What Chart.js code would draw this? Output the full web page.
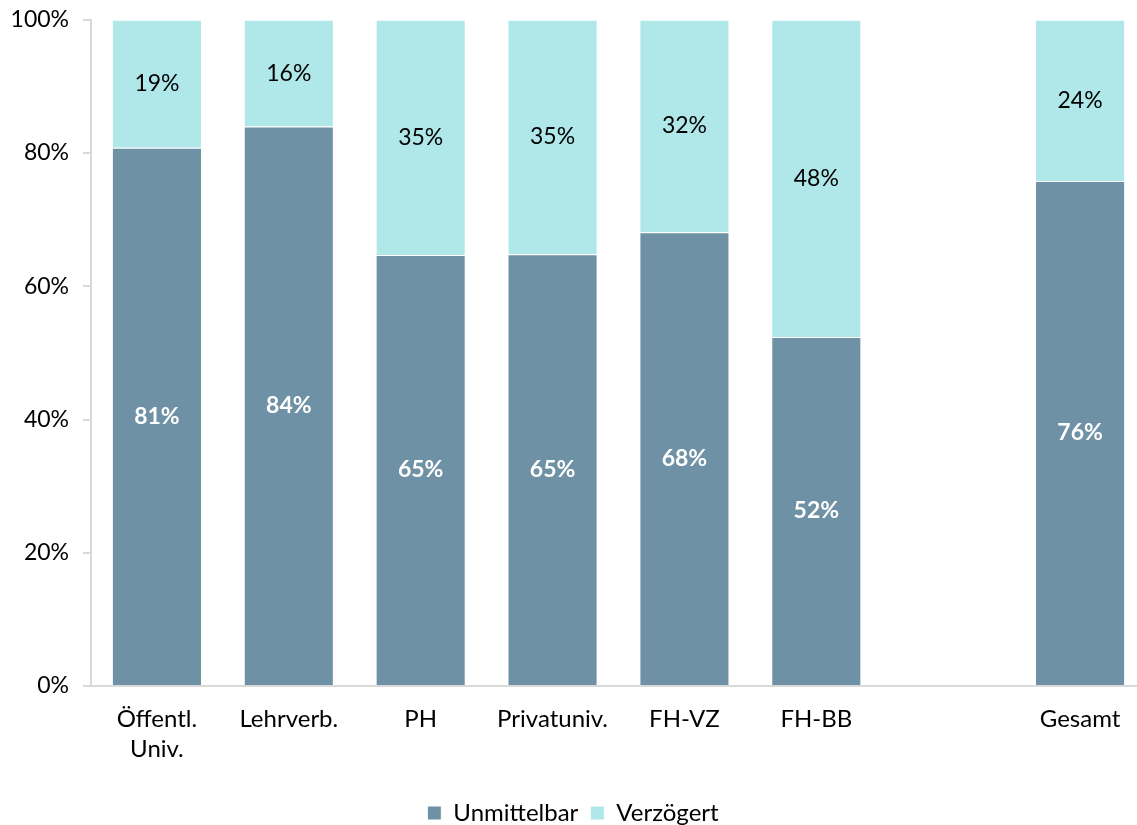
<!DOCTYPE html>
<html>
<head>
<meta charset="utf-8">
<script src="https://cdn.jsdelivr.net/npm/chart.js@4"></script>
<style>
  html, body { margin: 0; padding: 0; background: #fff; overflow: hidden; }
  #wrap { width: 1137px; height: 825px; overflow: hidden; }
  #chart { display: block; margin-top: -8px; }
</style>
</head>
<body>
<div id="wrap"><canvas id="chart" width="1146" height="843"></canvas></div>
<script>
const categories = [['Öffentl.', 'Univ.'], 'Lehrverb.', 'PH', 'Privatuniv.', 'FH-VZ', 'FH-BB', '', 'Gesamt'];
const unmittelbar = [80.8, 84.0, 64.7, 64.8, 68.1, 52.4, null, 75.8];
const verzoegert = [19.2, 16.0, 35.3, 35.2, 31.9, 47.6, null, 24.2];
const yTicks = [0, 20, 40, 60, 80, 100];

const FONT = 'Lato, "Open Sans", sans-serif';

// draws the percent inside each segment
const segmentLabels = {
    id: 'segmentLabels',
    afterDatasetsDraw(chart) {
        const ctx = chart.ctx;
        chart.data.datasets.forEach((ds, i) => {
            const meta = chart.getDatasetMeta(i);
            meta.data.forEach((bar, j) => {
                const v = ds.data[j];
                if (v == null) return;
                const mid = (bar.y + bar.base) / 2;
                ctx.save();
                ctx.font = (i === 0 ? 'bold ' : '') + '23px ' + FONT;
                ctx.fillStyle = i === 0 ? '#ffffff' : '#000000';
                ctx.textAlign = 'center';
                ctx.textBaseline = 'middle';
                ctx.fillText(Math.round(v) + '%', bar.x, mid);
                ctx.restore();
            });
        });
    }
};

const ctx = document.getElementById('chart').getContext('2d');
const chart = new Chart(ctx, {
    type: 'bar',
    data: {
        labels: categories,
        datasets: [{
            label: 'Unmittelbar',
            data: unmittelbar,
            backgroundColor: '#6f91a5',
            borderColor: '#ffffff',
            borderWidth: 1,
            barPercentage: 0.683,
            categoryPercentage: 1
        }, {
            label: 'Verzögert',
            data: verzoegert,
            backgroundColor: '#b0e8ea',
            borderColor: '#ffffff',
            borderWidth: 1,
            barPercentage: 0.683,
            categoryPercentage: 1
        }]
    },
    options: {
        responsive: false,
        animation: false,
        layout: { padding: { top: 0, right: 0, left: 0, bottom: 0 } },
        plugins: {
            legend: {
                position: 'bottom',
                labels: {
                    font: { family: FONT, size: 24 },
                    color: '#000',
                    boxWidth: 14,
                    boxHeight: 14,
                    padding: 12
                }
            },
            tooltip: { enabled: false }
        },
        scales: {
            x: {
                stacked: true,
                grid: { display: false },
                border: { display: true, color: '#d9d9d9', width: 2 },
                afterFit: axis => { axis.height += 15; },
                ticks: {
                    font: { family: FONT, size: 24, lineHeight: 1.25 },
                    color: '#000',
                    padding: 10,
                    maxRotation: 0,
                    autoSkip: false
                }
            },
            y: {
                stacked: true,
                min: 0,
                max: 100,
                afterBuildTicks: axis => { axis.ticks = yTicks.map(v => ({ value: v })); },
                afterFit: axis => { axis.width = 91; },
                grid: { display: true, drawOnChartArea: false, drawTicks: true, tickLength: 8, color: '#d9d9d9', lineWidth: 2 },
                border: { display: true, color: '#d9d9d9', width: 2 },
                ticks: {
                    font: { family: FONT, size: 23 },
                    color: '#000',
                    padding: 14,
                    callback: v => v + '%'
                }
            }
        }
    },
    plugins: [segmentLabels]
});
</script>
</body>
</html>
